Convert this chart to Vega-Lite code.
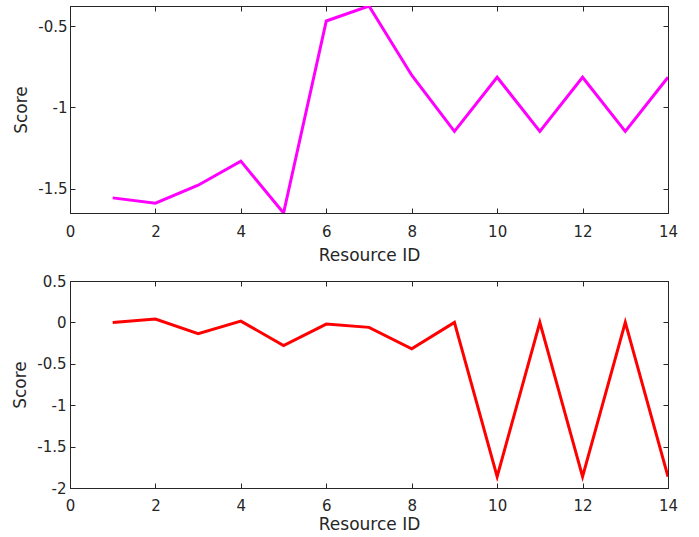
{
  "$schema": "https://vega.github.io/schema/vega-lite/v6.json",
  "padding": {"left": 11, "top": 5, "right": 10, "bottom": 0},
  "background": "white",
  "bounds": "flush",
  "spacing": 68,
  "datasets": {
    "top": [
      {"id": 1, "score": -1.557},
      {"id": 2, "score": -1.59},
      {"id": 3, "score": -1.479},
      {"id": 4, "score": -1.331},
      {"id": 5, "score": -1.65},
      {"id": 6, "score": -0.469},
      {"id": 7, "score": -0.377},
      {"id": 8, "score": -0.803},
      {"id": 9, "score": -1.148},
      {"id": 10, "score": -0.815},
      {"id": 11, "score": -1.148},
      {"id": 12, "score": -0.815},
      {"id": 13, "score": -1.148},
      {"id": 14, "score": -0.815}
    ],
    "bottom": [
      {"id": 1, "score": 0.0},
      {"id": 2, "score": 0.04},
      {"id": 3, "score": -0.136},
      {"id": 4, "score": 0.016},
      {"id": 5, "score": -0.28},
      {"id": 6, "score": -0.02},
      {"id": 7, "score": -0.06},
      {"id": 8, "score": -0.32},
      {"id": 9, "score": 0.0},
      {"id": 10, "score": -1.863},
      {"id": 11, "score": 0.0},
      {"id": 12, "score": -1.863},
      {"id": 13, "score": 0.0},
      {"id": 14, "score": -1.863}
    ]
  },
  "vconcat": [
    {
      "width": 598,
      "height": 207,
      "data": {"name": "top"},
      "layer": [
        {
          "mark": {"type": "line", "color": "#FF00FF", "strokeWidth": 3, "clip": true},
          "encoding": {
            "x": {"field": "id", "type": "quantitative", "scale": {"domain": [0, 14], "nice": false, "zero": false},
                  "axis": {"orient": "bottom", "title": "Resource ID", "values": [0, 2, 4, 6, 8, 10, 12, 14], "labelPadding": 16, "titlePadding": 8}},
            "y": {"field": "score", "type": "quantitative", "scale": {"domain": [-1.65, -0.377], "nice": false, "zero": false},
                  "axis": {"orient": "left", "title": "Score", "values": [-1.5, -1, -0.5], "labelExpr": "'' + datum.value", "labelPadding": 8, "titlePadding": 7}}
          }
        },
        {
          "mark": {"type": "line", "strokeOpacity": 0, "clip": true},
          "encoding": {
            "x": {"field": "id", "type": "quantitative", "axis": {"orient": "top", "title": null, "labels": false, "values": [0, 2, 4, 6, 8, 10, 12, 14], "minExtent": 0, "maxExtent": 0}},
            "y": {"field": "score", "type": "quantitative", "axis": {"orient": "right", "title": null, "labels": false, "values": [-1.5, -1, -0.5], "minExtent": 0, "maxExtent": 0}}
          }
        }
      ]
    },
    {
      "width": 598,
      "height": 207,
      "data": {"name": "bottom"},
      "layer": [
        {
          "mark": {"type": "line", "color": "#FF0000", "strokeWidth": 3, "clip": true},
          "encoding": {
            "x": {"field": "id", "type": "quantitative", "scale": {"domain": [0, 14], "nice": false, "zero": false},
                  "axis": {"orient": "bottom", "title": "Resource ID", "values": [0, 2, 4, 6, 8, 10, 12, 14], "labelPadding": 15, "titlePadding": 3}},
            "y": {"field": "score", "type": "quantitative", "scale": {"domain": [-2, 0.5], "nice": false, "zero": false},
                  "axis": {"orient": "left", "title": "Score", "values": [-2, -1.5, -1, -0.5, 0, 0.5], "labelExpr": "'' + datum.value", "labelPadding": 9, "titlePadding": 7}}
          }
        },
        {
          "mark": {"type": "line", "strokeOpacity": 0, "clip": true},
          "encoding": {
            "x": {"field": "id", "type": "quantitative", "axis": {"orient": "top", "title": null, "labels": false, "values": [0, 2, 4, 6, 8, 10, 12, 14], "minExtent": 0, "maxExtent": 0}},
            "y": {"field": "score", "type": "quantitative", "axis": {"orient": "right", "title": null, "labels": false, "values": [-2, -1.5, -1, -0.5, 0, 0.5], "minExtent": 0, "maxExtent": 0}}
          }
        }
      ]
    }
  ],
  "config": {
    "font": "DejaVu Sans",
    "view": {"stroke": "#262626", "strokeWidth": 1},
    "axis": {
      "domainColor": "#262626",
      "tickColor": "#262626",
      "tickSize": -5,
      "grid": false,
      "labelFont": "DejaVu Sans",
      "labelFontSize": 15,
      "labelColor": "#262626",
      "titleFont": "DejaVu Sans",
      "titleFontSize": 17,
      "titleFontWeight": "normal",
      "titleColor": "#262626",
      "labelFlush": false,
      "labelOverlap": false
    }
  }
}
